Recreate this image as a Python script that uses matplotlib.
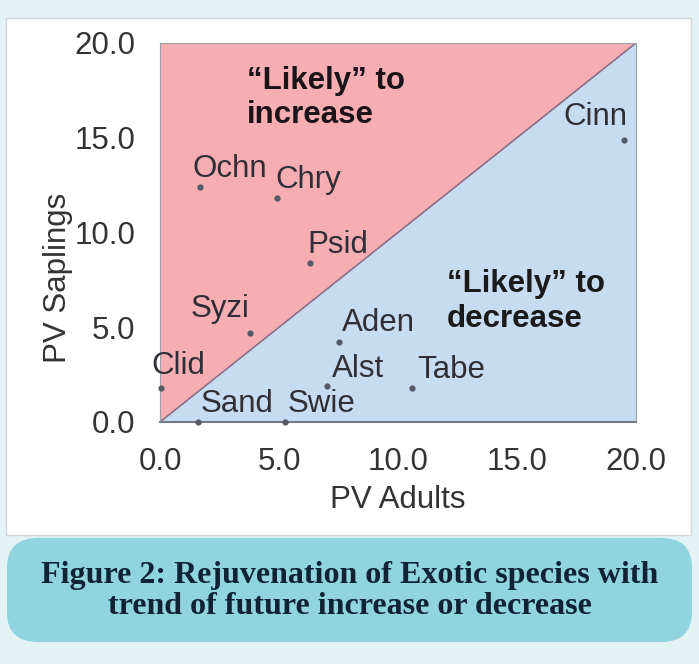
import matplotlib.pyplot as plt
from matplotlib.patches import FancyBboxPatch, Rectangle, Polygon

# species codes and their PV values
species = ['Cinn', 'Ochn', 'Chry', 'Psid', 'Syzi', 'Aden', 'Clid', 'Alst', 'Tabe', 'Sand', 'Swie']
pv_adults = [19.5, 1.7, 4.9, 6.3, 3.8, 7.5, 0.05, 7.0, 10.6, 1.6, 5.25]
pv_saplings = [14.9, 12.4, 11.8, 8.4, 4.7, 4.2, 1.8, 1.9, 1.8, 0.0, 0.0]
ticks = [0, 5, 10, 15, 20]
tick_labels = ['0.0', '5.0', '10.0', '15.0', '20.0']

# label offsets in points (dx, dy) relative to each dot
offsets = [(-21, 16), (21, 13), (23, 13), (20, 13), (-22, 17), (29, 14), (12, 16), (23, 12), (28, 13), (28, 13), (26, 13)]

FS = 22.5
fig = plt.figure(figsize=(6.99, 6.64), dpi=100)
fig.patch.set_facecolor('#e2f2f5')

# white panel and teal caption box
fig.patches.append(Rectangle((0.008, 0.194), 0.98, 0.779, transform=fig.transFigure,
                             facecolor='white', edgecolor='#d0d8da', lw=1, zorder=-2))
fig.patches.append(FancyBboxPatch((0.01, 0.033), 0.98, 0.157, boxstyle='round,pad=0.0,rounding_size=0.045',
                                  transform=fig.transFigure, facecolor='#8fd4df', edgecolor='none', zorder=-2))

ax = fig.add_axes([0.2289, 0.3645, 0.681, 0.5708])
ax.set_zorder(3)
ax.set_xlim(0, 20)
ax.set_ylim(0, 20)

ax.add_patch(Polygon([(0, 0), (0, 20), (20, 20)], closed=True, facecolor='#f7aeb3', edgecolor='none', zorder=1))
ax.add_patch(Polygon([(0, 0), (20, 0), (20, 20)], closed=True, facecolor='#c7dcf0', edgecolor='none', zorder=1))
ax.plot([0, 20], [0, 20], color='#8a6f88', lw=1.2, zorder=2)

ax.scatter(pv_adults, pv_saplings, s=12, color='#555a66', zorder=4, clip_on=False)
for name, x, y, (dx, dy) in zip(species, pv_adults, pv_saplings, offsets):
    ax.annotate(name, (x, y), xytext=(dx, dy), textcoords='offset points', ha='center', va='center',
                fontsize=FS, color='#2f2f35', family='Liberation Sans', zorder=5)

ax.text(3.65, 17.1, '\u201cLikely\u201d to\nincrease', ha='left', va='center', fontsize=FS,
        fontweight='bold', color='#1a1418', family='Liberation Sans', linespacing=1.2, zorder=5)
ax.text(12.05, 6.35, '\u201cLikely\u201d to\ndecrease', ha='left', va='center', fontsize=FS,
        fontweight='bold', color='#1a1a1a', family='Liberation Sans', linespacing=1.2, zorder=5)

ax.set_xticks(ticks)
ax.set_xticklabels(tick_labels)
ax.set_yticks(ticks)
ax.set_yticklabels(tick_labels)
ax.tick_params(length=0, labelsize=FS, labelcolor='#333333', pad=18)
for lab in ax.get_xticklabels() + ax.get_yticklabels():
    lab.set_family('Liberation Sans')
for side in ['top', 'right', 'left']:
    ax.spines[side].set_color('#9aa3ad')
    ax.spines[side].set_linewidth(0.8)
ax.spines['bottom'].set_color('#6f7a86')
ax.spines['bottom'].set_linewidth(1.5)

ax.set_xlabel('PV Adults', fontsize=FS, color='#333333', family='Liberation Sans')
ax.set_ylabel('PV Saplings', fontsize=FS, color='#333333', family='Liberation Sans')
ax.xaxis.set_label_coords(0.5, -0.206)
ax.xaxis.label.set_va('center')
ax.yaxis.set_label_coords(-0.215, 0.38)
ax.yaxis.label.set_va('center')

fig.text(0.5, 0.134, 'Figure 2: Rejuvenation of Exotic species with', ha='center', va='center',
         fontsize=23, fontweight='bold', color='#0f2236', family='Liberation Serif')
fig.text(0.5, 0.087, 'trend of future increase or decrease', ha='center', va='center',
         fontsize=23, fontweight='bold', color='#0f2236', family='Liberation Serif')

fig.savefig('out.png', dpi=100, facecolor=fig.get_facecolor())
